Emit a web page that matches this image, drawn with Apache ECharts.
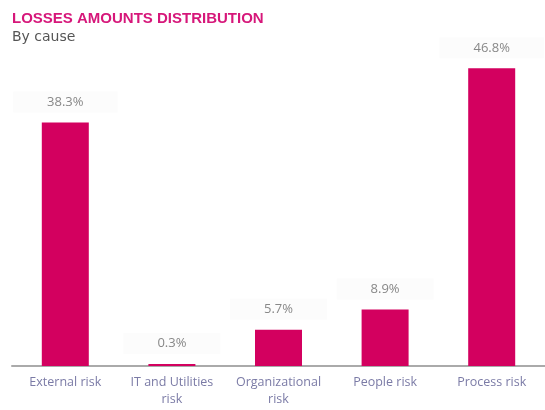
<!DOCTYPE html>
<html>
<head>
<meta charset="utf-8">
<script src="https://cdn.jsdelivr.net/npm/echarts@6/dist/echarts.min.js"></script>
<style>
  html, body { margin: 0; padding: 0; background: #fff; }
  #chart { width: 545px; height: 410px; }
</style>
</head>
<body>
<div id="chart"></div>
<script>
// Loss causes and their share of total losses (%)
const causes = ['External risk', 'IT and Utilities\nrisk', 'Organizational\nrisk', 'People risk', 'Process risk'];
const shares = [38.3, 0.3, 5.7, 8.9, 46.8];

const chart = echarts.init(document.getElementById('chart'), null, { renderer: 'canvas' });

chart.setOption({
  animation: false,
  title: {
    text: 'LOSSES AMOUNTS DISTRIBUTION',
    subtext: 'By cause',
    left: 7,
    top: 6,
    itemGap: 4,
    textStyle: {
      color: '#d6177a',
      fontFamily: 'Liberation Sans, Arial, sans-serif',
      fontWeight: 'bold',
      fontSize: 15
    },
    subtextStyle: {
      color: '#555',
      fontFamily: 'DejaVu Sans, sans-serif',
      fontSize: 14
    }
  },
  grid: { left: 12, right: -2, top: 48, bottom: 44, containLabel: false },
  xAxis: {
    type: 'category',
    data: causes,
    axisLine: { lineStyle: { color: '#aaa', width: 2 } },
    axisTick: { show: false },
    axisLabel: {
      color: '#7b7ba6',
      fontFamily: 'Open Sans, sans-serif',
      fontSize: 12.5,
      lineHeight: 17,
      margin: 8,
      interval: 0
    }
  },
  yAxis: {
    type: 'value',
    min: 0,
    max: 50,
    show: false
  },
  series: [{
    type: 'bar',
    data: shares,
    barWidth: 47,
    itemStyle: { color: '#d3005f' },
    label: {
      show: true,
      position: 'top',
      distance: 10,
      formatter: p => p.value.toFixed(1) + '%',
      color: '#888',
      fontFamily: 'Open Sans, sans-serif',
      fontSize: 13,
      backgroundColor: '#fcfcfc',
      padding: [4, 34]
    }
  }]
});
</script>
</body>
</html>
